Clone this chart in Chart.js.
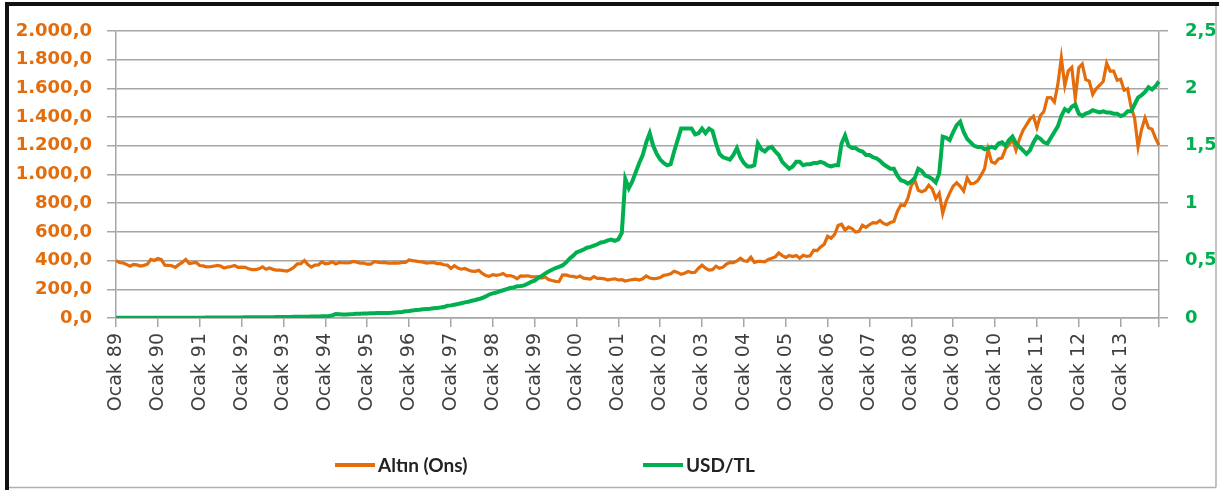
<!DOCTYPE html>
<html lang="tr">
<head>
<meta charset="utf-8">
<title>Altın (Ons) ve USD/TL</title>
<script src="https://cdn.jsdelivr.net/npm/chart.js@4.4.1/dist/chart.umd.min.js"></script>
<style>
  html, body { margin: 0; padding: 0; background: #fff; }
  #myChart { display: block; }
</style>
</head>
<body>
<canvas id="myChart" width="1219" height="490" style="width:1219px;height:490px"></canvas>
<script>
// yillar (Ocak etiketleri icin)
var yillar = ['89','90','91','92','93','94','95','96','97','98','99','00',
              '01','02','03','04','05','06','07','08','09','10','11','12','13'];

// Altin ons fiyati, ay sonu (USD) - 1989 Ocak .. 2013 Aralik
var altin = [
  400, 387, 384, 374, 361, 373, 370, 362, 367, 375, 409, 401,
  415, 407, 368, 367, 364, 353, 372, 387, 408, 380, 384, 387,
  366, 363, 356, 357, 361, 367, 362, 348, 355, 359, 366, 353,
  354, 353, 343, 337, 337, 343, 357, 340, 349, 339, 334, 333,
  330, 327, 337, 354, 377, 378, 401, 372, 355, 369, 370, 391,
  378, 381, 391, 377, 387, 385, 384, 386, 394, 389, 383, 383,
  375, 375, 392, 389, 385, 387, 383, 382, 384, 383, 387, 387,
  405, 400, 396, 392, 390, 382, 385, 387, 379, 379, 371, 369,
  345, 364, 348, 340, 345, 334, 326, 325, 332, 311, 296, 290,
  302, 297, 301, 310, 293, 296, 288, 273, 294, 292, 294, 288,
  287, 288, 279, 286, 268, 261, 255, 254, 299, 300, 292, 290,
  283, 293, 278, 275, 272, 289, 276, 277, 273, 264, 270, 273,
  265, 267, 258, 263, 268, 271, 265, 273, 293, 279, 275, 276,
  282, 297, 301, 308, 326, 318, 304, 312, 324, 317, 319, 347,
  368, 347, 334, 337, 361, 346, 354, 375, 388, 386, 398, 417,
  399, 395, 424, 388, 394, 395, 391, 408, 416, 426, 453, 435,
  422, 435, 428, 435, 417, 437, 429, 433, 473, 470, 495, 513,
  569, 556, 582, 644, 653, 613, 633, 623, 599, 604, 646, 632,
  650, 665, 662, 679, 659, 650, 665, 673, 743, 789, 783, 834,
  923, 960, 890, 880, 890, 925, 900, 833, 870, 730, 815, 870,
  919, 942, 917, 884, 976, 935, 939, 956, 996, 1040, 1176, 1088,
  1078, 1109, 1116, 1179, 1208, 1244, 1169, 1247, 1307, 1346, 1386, 1406,
  1327, 1411, 1439, 1535, 1536, 1505, 1628, 1813, 1620, 1722, 1746, 1531,
  1744, 1770, 1662, 1651, 1558, 1598, 1622, 1648, 1776, 1720, 1721, 1657,
  1664, 1588, 1598, 1469, 1394, 1192, 1314, 1395, 1326, 1316, 1253, 1204
];

// USD/TL kuru (yeni TL) - 1989 Ocak .. 2013 Aralik
var usdtl = [
  0.0018, 0.0019, 0.0019, 0.0020, 0.0020, 0.0021, 0.0021, 0.0022, 0.0022, 0.0022, 0.0023, 0.0023,
  0.0023, 0.0024, 0.0025, 0.0026, 0.0027, 0.0027, 0.0027, 0.0028, 0.0028, 0.0028, 0.0029, 0.0029,
  0.0030, 0.0032, 0.0035, 0.0037, 0.0039, 0.0041, 0.0042, 0.0044, 0.0046, 0.0048, 0.0050, 0.0050,
  0.0053, 0.0056, 0.0058, 0.0061, 0.0063, 0.0066, 0.0068, 0.0070, 0.0073, 0.0076, 0.0082, 0.0086,
  0.0088, 0.0092, 0.0095, 0.0099, 0.0103, 0.0109, 0.0113, 0.0117, 0.0120, 0.0126, 0.0136, 0.0145,
  0.0155, 0.0170, 0.0230, 0.0340, 0.0330, 0.0310, 0.0310, 0.0330, 0.0340, 0.0360, 0.0370, 0.0385,
  0.0398, 0.0410, 0.0420, 0.0430, 0.0435, 0.0440, 0.0445, 0.0450, 0.0475, 0.0495, 0.0520, 0.0585,
  0.0610, 0.0650, 0.0690, 0.0720, 0.0760, 0.0790, 0.0810, 0.0850, 0.0880, 0.0910, 0.0950, 0.1075,
  0.1100, 0.1160, 0.1220, 0.1290, 0.1360, 0.1420, 0.1500, 0.1570, 0.1650, 0.1740, 0.1880, 0.2050,
  0.2150, 0.2220, 0.2330, 0.2420, 0.2520, 0.2610, 0.2670, 0.2760, 0.2780, 0.2840, 0.2980, 0.3140,
  0.3250, 0.3480, 0.3650, 0.3870, 0.4050, 0.4200, 0.4350, 0.4450, 0.4580, 0.4830, 0.5160, 0.5410,
  0.5710, 0.5820, 0.5950, 0.6120, 0.6200, 0.6300, 0.6420, 0.6580, 0.6630, 0.6760, 0.6830, 0.6720,
  0.684, 0.74, 1.21, 1.13, 1.19, 1.27, 1.35, 1.42, 1.53, 1.61, 1.50, 1.43,
  1.38, 1.35, 1.33, 1.34, 1.45, 1.55, 1.65, 1.65, 1.65, 1.65, 1.60, 1.61,
  1.65, 1.61, 1.65, 1.63, 1.52, 1.43, 1.40, 1.39, 1.38, 1.42, 1.48, 1.40,
  1.35, 1.32, 1.32, 1.33, 1.52, 1.47, 1.45, 1.48, 1.49, 1.45, 1.42, 1.36,
  1.33, 1.30, 1.32, 1.36, 1.36, 1.33, 1.34, 1.34, 1.35, 1.35, 1.36, 1.35,
  1.33, 1.32, 1.33, 1.33, 1.52, 1.59, 1.50, 1.48, 1.48, 1.46, 1.45, 1.42,
  1.42, 1.40, 1.39, 1.37, 1.34, 1.32, 1.30, 1.30, 1.24, 1.20, 1.19, 1.17,
  1.19, 1.22, 1.30, 1.28, 1.24, 1.23, 1.21, 1.18, 1.26, 1.58, 1.57, 1.55,
  1.62, 1.68, 1.71, 1.62, 1.56, 1.53, 1.50, 1.49, 1.49, 1.47, 1.48, 1.49,
  1.48, 1.52, 1.53, 1.50, 1.55, 1.58, 1.52, 1.49, 1.46, 1.43, 1.46, 1.53,
  1.58, 1.56, 1.53, 1.52, 1.57, 1.62, 1.67, 1.76, 1.82, 1.80, 1.84, 1.86,
  1.78, 1.76, 1.78, 1.79, 1.81, 1.80, 1.79, 1.80, 1.79, 1.79, 1.78, 1.78,
  1.76, 1.77, 1.80, 1.80, 1.86, 1.92, 1.94, 1.97, 2.01, 1.99, 2.02, 2.06
];

var turuncu = '#E46C0A';
var yesil = '#00B050';
var gridRengi = '#a6a6a6';

// her ay bir kategori, sadece Ocak aylarinda etiket
var aylar = [];
for (var y of yillar) {
    for (var m = 0; m < 12; m++) {
        aylar.push(m == 0 ? 'Ocak ' + y : '');
    }
}
var sonAy = aylar.length - 1;

function binlik(v) {
    var s = v.toFixed(1).split('.');
    return s[0].replace(/\B(?=(\d{3})+(?!\d))/g, '.') + ',' + s[1];
}

// cerceve ve alttaki aciklama
var cerceve = {
    id: 'cerceve',
    afterDraw: function(chart) {
        var ctx = chart.ctx;
        ctx.save();
        ctx.fillStyle = '#111';
        ctx.fillRect(5, 2, 1214, 4);
        ctx.fillRect(5, 2, 4, 488);
        ctx.strokeStyle = '#b0b0b0';
        ctx.lineWidth = 1.5;
        ctx.beginPath();
        ctx.moveTo(1216, 6); ctx.lineTo(1216, 487.5);
        ctx.moveTo(9, 487.5); ctx.lineTo(1216, 487.5);
        ctx.stroke();

        var items = [[0, 335], [1, 643]];
        ctx.font = "bold 19px Lato, sans-serif";
        ctx.textBaseline = 'middle';
        for (var it of items) {
            var ds = chart.data.datasets[it[0]];
            ctx.strokeStyle = ds.borderColor;
            ctx.lineWidth = 4;
            ctx.beginPath();
            ctx.moveTo(it[1], 465);
            ctx.lineTo(it[1] + 40, 465);
            ctx.stroke();
            ctx.fillStyle = '#222';
            ctx.fillText(ds.label, it[1] + 43, 466);
        }
        ctx.restore();
    }
};

new Chart("myChart", {
    type: "line",
    data: {
        labels: aylar,
        datasets: [{
            label: 'Altın (Ons)',
            data: altin,
            borderColor: turuncu,
            backgroundColor: turuncu,
            borderWidth: 3.2,
            pointRadius: 0,
            yAxisID: 'y',
            order: 1
        }, {
            label: 'USD/TL',
            data: usdtl,
            borderColor: yesil,
            backgroundColor: yesil,
            borderWidth: 4,
            pointRadius: 0,
            yAxisID: 'y2',
            order: 0
        }]
    },
    options: {
        responsive: false,
        animation: false,
        layout: { padding: { top: 31, left: 0, right: 0, bottom: 0 } },
        plugins: {
            legend: { display: false },
            tooltip: { enabled: false }
        },
        scales: {
            x: {
                ticks: {
                    autoSkip: false,
                    minRotation: 90,
                    maxRotation: 90,
                    padding: 6,
                    color: '#404040',
                    font: { family: 'DejaVu Sans', size: 19 }
                },
                grid: {
                    drawOnChartArea: false,
                    tickLength: 9,
                    lineWidth: 1.5,
                    tickColor: function(c) {
                        return (c.index % 12 == 0 || c.index == sonAy) ? gridRengi : 'rgba(0,0,0,0)';
                    }
                },
                border: { color: gridRengi, width: 1.5 },
                afterFit: function(s) { s.height = 172; }
            },
            y: {
                position: 'left',
                min: 0,
                max: 2000,
                ticks: {
                    stepSize: 200,
                    padding: 15,
                    color: turuncu,
                    font: { family: 'DejaVu Sans', size: 18, weight: 'bold' },
                    callback: function(v) { return binlik(v); }
                },
                grid: { color: gridRengi, lineWidth: 1.5, tickLength: 9 },
                border: { color: gridRengi, width: 1.5 },
                afterFit: function(s) { s.width = 116; }
            },
            y2: {
                position: 'right',
                min: 0,
                max: 2.5,
                ticks: {
                    stepSize: 0.5,
                    padding: 17,
                    color: yesil,
                    font: { family: 'DejaVu Sans', size: 18, weight: 'bold' },
                    callback: function(v) { return String(v).replace('.', ','); }
                },
                grid: { drawOnChartArea: false, color: gridRengi, lineWidth: 1.5, tickLength: 9 },
                border: { color: gridRengi, width: 1.5 },
                afterFit: function(s) { s.width = 60; }
            }
        }
    },
    plugins: [cerceve]
});
</script>
</body>
</html>
